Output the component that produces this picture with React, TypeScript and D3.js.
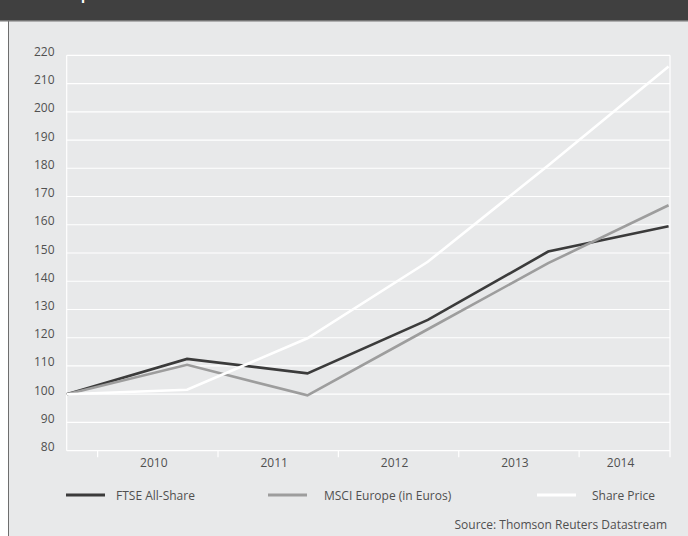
import React from "react";
import * as d3 from "d3";

const years = [2009, 2010, 2011, 2012, 2013, 2014];
const tickYears = [2010, 2011, 2012, 2013, 2014];
const yTicks = [80, 90, 100, 110, 120, 130, 140, 150, 160, 170, 180, 190, 200, 210, 220];
const ftse = [100, 112.5, 107.4, 126.3, 150.5, 159.5];
const msci = [100, 110.4, 99.6, 123.0, 146.4, 166.9];
const sharePrice = [100, 101.6, 119.8, 146.9, 181.0, 216.0];
const seriesNames = ["FTSE All-Share", "MSCI Europe (in Euros)", "Share Price"];
const title = "Share performance";
const source = "Source: Thomson Reuters Datastream";

const W = 688;
const H = 536;
const FONT = "'Open Sans', 'Noto Sans', sans-serif";
const TEXT = "#505050";

export default function App() {
  const left = 66.7;
  const right = 670;
  const top = 55.3;
  const bottom = 450.7;
  // x in years since first data point; axis extends slightly past the last point
  const x = d3.scaleLinear().domain([0, 5.012]).range([left, right]);
  const y = d3.scaleLinear().domain([80, 220]).range([bottom, top]);
  const tickOffset = 0.257;

  const line = d3
    .line<number>()
    .x((_, i) => x(i))
    .y((d) => y(d));

  const series = [
    { name: seriesNames[0], values: ftse, color: "#3b3b3b" },
    { name: seriesNames[1], values: msci, color: "#9d9d9d" },
    { name: seriesNames[2], values: sharePrice, color: "#ffffff" },
  ];

  const tickXs = tickYears.map((yr) => x(yr - years[0] - 1 + tickOffset));
  const labelXs = tickXs.map((tx, i) => {
    const next = i + 1 < tickXs.length ? tickXs[i + 1] : right;
    return (tx + next) / 2 - 4;
  });

  const legendPos = [
    { lx: 66, tx: 116 },
    { lx: 268, tx: 324 },
    { lx: 537, tx: 592 },
  ];

  return (
    <svg
      width={W}
      height={H}
      style={{ position: "absolute", left: 0, top: 0, display: "block" }}
      fontFamily={FONT}
    >
      <rect x={0} y={0} width={W} height={H} fill="#ffffff" />
      <rect x={9} y={20} width={W - 9} height={H - 20} fill="#e8e9ea" />
      <line x1={8.5} x2={8.5} y1={20} y2={H} stroke="#6e6e6e" strokeWidth={1} />
      <rect x={0} y={0} width={W} height={20} fill="#404040" />
      <rect x={0} y={20} width={W} height={1.5} fill="#757575" />
      <text x={26} y={-1.5} fill="#ffffff" fontSize={18} fontWeight={600}>
        {title}
      </text>

      {/* gridlines */}
      {yTicks.map((t) => (
        <line
          key={t}
          x1={left}
          x2={right}
          y1={y(t)}
          y2={y(t)}
          stroke="#ffffff"
          strokeWidth={1.2}
        />
      ))}
      <line x1={left} x2={left} y1={top} y2={bottom} stroke="#ffffff" strokeWidth={1.2} />
      <line x1={right} x2={right} y1={top} y2={bottom + 6.5} stroke="#ffffff" strokeWidth={1.2} />
      {tickXs.map((tx, i) => (
        <line key={i} x1={tx} x2={tx} y1={bottom} y2={bottom + 6.5} stroke="#ffffff" strokeWidth={1.2} />
      ))}

      {/* y labels */}
      {yTicks.map((t) => (
        <text
          key={t}
          x={54.5}
          y={y(t) + 0.5}
          textAnchor="end"
          fontSize={12}
          fill={TEXT}
        >
          {t}
        </text>
      ))}
      {/* x labels */}
      {tickYears.map((yr, i) => (
        <text key={yr} x={labelXs[i]} y={466.5} textAnchor="middle" fontSize={12} fill={TEXT}>
          {yr}
        </text>
      ))}

      {/* lines */}
      {series.map((s) => (
        <path
          key={s.name}
          d={line(s.values) || ""}
          fill="none"
          stroke={s.color}
          strokeWidth={2.6}
          strokeLinejoin="miter"
        />
      ))}

      {/* legend */}
      {series.map((s, i) => (
        <g key={s.name}>
          <line
            x1={legendPos[i].lx}
            x2={legendPos[i].lx + 39}
            y1={495}
            y2={495}
            stroke={s.color}
            strokeWidth={3}
          />
          <text x={legendPos[i].tx} y={499.5} fontSize={12} fill={TEXT}>
            {s.name}
          </text>
        </g>
      ))}

      <text x={667} y={529} textAnchor="end" fontSize={12} fill={TEXT}>
        {source}
      </text>
    </svg>
  );
}
